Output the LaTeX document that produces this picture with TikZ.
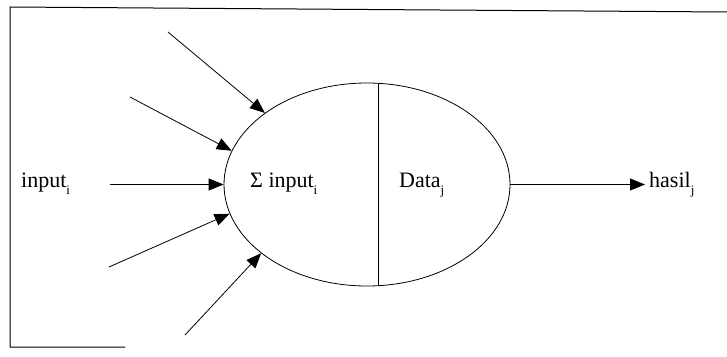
\documentclass[tikz,border=0pt]{standalone}
\usepackage{fontspec}
\setmainfont{Liberation Serif}
\usetikzlibrary{shapes.geometric,arrows.meta,calc}
\newcommand{\mysub}[1]{\raisebox{-0.35em}{\fontsize{13}{13}\selectfont #1}}
\tikzset{
  lbl/.style={anchor=base west,inner sep=0pt,font=\fontsize{22}{22}\selectfont},
  conn/.style={line width=0.8pt,-{Triangle[length=15pt,width=12pt]}},
  frame/.style={line width=1pt},
}
\begin{document}
\begin{tikzpicture}[x=1pt,y=-1pt]
\useasboundingbox (0,0) rectangle (727,356);
% frame
\coordinate (f1) at (727,12);
\coordinate (f2) at (10,7);
\coordinate (f3) at (10,347);
\coordinate (f4) at (125,347);
\draw[frame] (f1) -- (f2) -- (f3) -- (f4);
% neuron
\node[ellipse,draw,line width=0.8pt,minimum width=286pt,minimum height=203pt,inner sep=0pt] (neuron) at (367,184.5) {};
\coordinate (dtop) at ($(neuron.center)+(11,-101.2)$);
\coordinate (dbot) at ($(neuron.center)+(11,101.2)$);
\draw[line width=0.8pt] (dtop) -- (dbot);
% labels
\node[lbl] (inp) at (21,187) {input\mysub{i}};
\node[lbl] (sum) at (250,187) {Σ input\mysub{i}};
\node[lbl] (data) at (399,187) {Data\mysub{j}};
\node[lbl] (hasil) at (649,187) {hasil\mysub{j}};
% inputs
\coordinate (s1) at (168,32);
\coordinate (s2) at (130,97);
\coordinate (s3) at (110,184.5);
\coordinate (s4) at (109,267);
\coordinate (s5) at (185,335);
\draw[conn] (s1) -- (neuron.145.7);
\draw[conn] (s2) -- (neuron.166);
\draw[conn] (s3) -- (neuron.west);
\draw[conn] (s4) -- (neuron.192.9);
\draw[conn] (s5) -- (neuron.213.1);
% output
\coordinate (o1) at (645,184.5);
\draw[conn] (neuron.east) -- (o1);
\end{tikzpicture}
\end{document}
